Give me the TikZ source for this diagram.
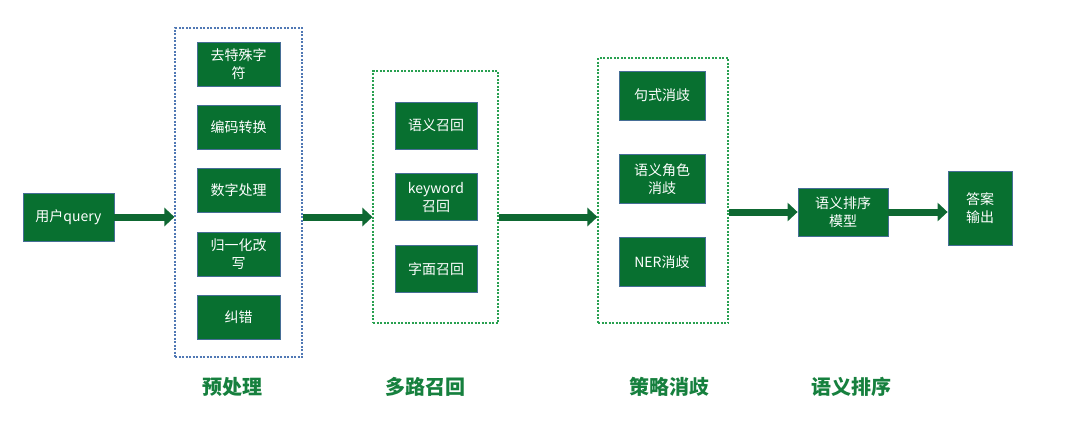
\documentclass[tikz,border=0pt]{standalone}
\usepackage{fontspec}
\setmainfont{Noto Sans CJK SC}
\usetikzlibrary{positioning,arrows.meta}

\definecolor{boxgreen}{RGB}{8,112,48}
\definecolor{boxedge}{RGB}{70,110,150}
\definecolor{arrowgreen}{RGB}{14,104,50}
\definecolor{framblue}{RGB}{80,120,180}
\definecolor{framgreen}{RGB}{40,160,80}
\definecolor{labelgreen}{RGB}{22,128,62}

\begin{document}
\begin{tikzpicture}[x=1pt, y=-1pt,
    procbox/.style={draw=boxedge, line width=0.8pt, fill=boxgreen, text=white, align=center,
      font=\fontsize{14}{18}\selectfont, inner sep=0pt},
    stage/.style={draw=#1, line width=1.1pt, dash pattern=on 2pt off 1.5pt, inner sep=0pt},
    flow/.style={-{Triangle[length=10pt,width=18pt]}, line width=7pt, draw=arrowgreen},
    steplabel/.style={text=labelgreen, font=\fontsize{20}{24}\selectfont\bfseries}
  ]
\useasboundingbox (0,0) rectangle (1080,440);

% Input
\node[procbox, minimum width=91pt, minimum height=48pt] (user) at (68.5,217) {用户query};

% Preprocessing stage
\node[stage=framblue, minimum width=127pt, minimum height=329pt] (pre) at (238.5,192.5) {};
\begin{scope}[every node/.style={procbox, minimum width=83pt, minimum height=44pt}, node distance=18.5pt]
\node (pre-1) at (238.5,64) {去特殊字\\符};
\node[below=of pre-1] (pre-2) {编码转换};
\node[below=of pre-2] (pre-3) {数字处理};
\node[below=of pre-3] (pre-4) {归一化改\\写};
\node[below=of pre-4] (pre-5) {纠错};
\end{scope}

% Recall stage
\node[stage=framgreen, minimum width=125pt, minimum height=252pt] (recall) at (435.5,197) {};
\begin{scope}[every node/.style={procbox, minimum width=82pt, minimum height=47pt}, node distance=24pt]
\node (rec-1) at (436,125.5) {语义召回};
\node[below=of rec-1] (rec-2) {keyword\\召回};
\node[below=of rec-2] (rec-3) {字面召回};
\end{scope}

% Disambiguation stage
\node[stage=framgreen, minimum width=130pt, minimum height=265pt] (disamb) at (663,190.5) {};
\begin{scope}[every node/.style={procbox, minimum width=86pt, minimum height=49pt}, node distance=33.5pt]
\node (dis-1) at (662,95.5) {句式消歧};
\node[below=of dis-1] (dis-2) {语义角色\\消歧};
\node[below=of dis-2] (dis-3) {NER消歧};
\end{scope}

% Ranking and output
\node[procbox, minimum width=90pt, minimum height=48pt] (rank) at (843,212) {语义排序\\模型};
\node[procbox, minimum width=64pt, minimum height=74pt] (answer) at (980,208) {答案\\输出};

% Arrows
\draw[flow] (user.east) -- (user.east -| pre.west);
\draw[flow] (user.east -| pre.east) -- (user.east -| recall.west);
\draw[flow] (user.east -| recall.east) -- (user.east -| disamb.west);
\draw[flow] (rank.west -| disamb.east) -- (rank.west);
\draw[flow] (rank.east) -- (rank.east -| answer.west);

% Stage labels
\node[steplabel] (lab-pre) at (232,387) {预处理};
\node[steplabel] (lab-rec) at (425,387) {多路召回};
\node[steplabel] (lab-dis) at (669,387) {策略消歧};
\node[steplabel] (lab-rank) at (851,387) {语义排序};

\end{tikzpicture}
\end{document}
